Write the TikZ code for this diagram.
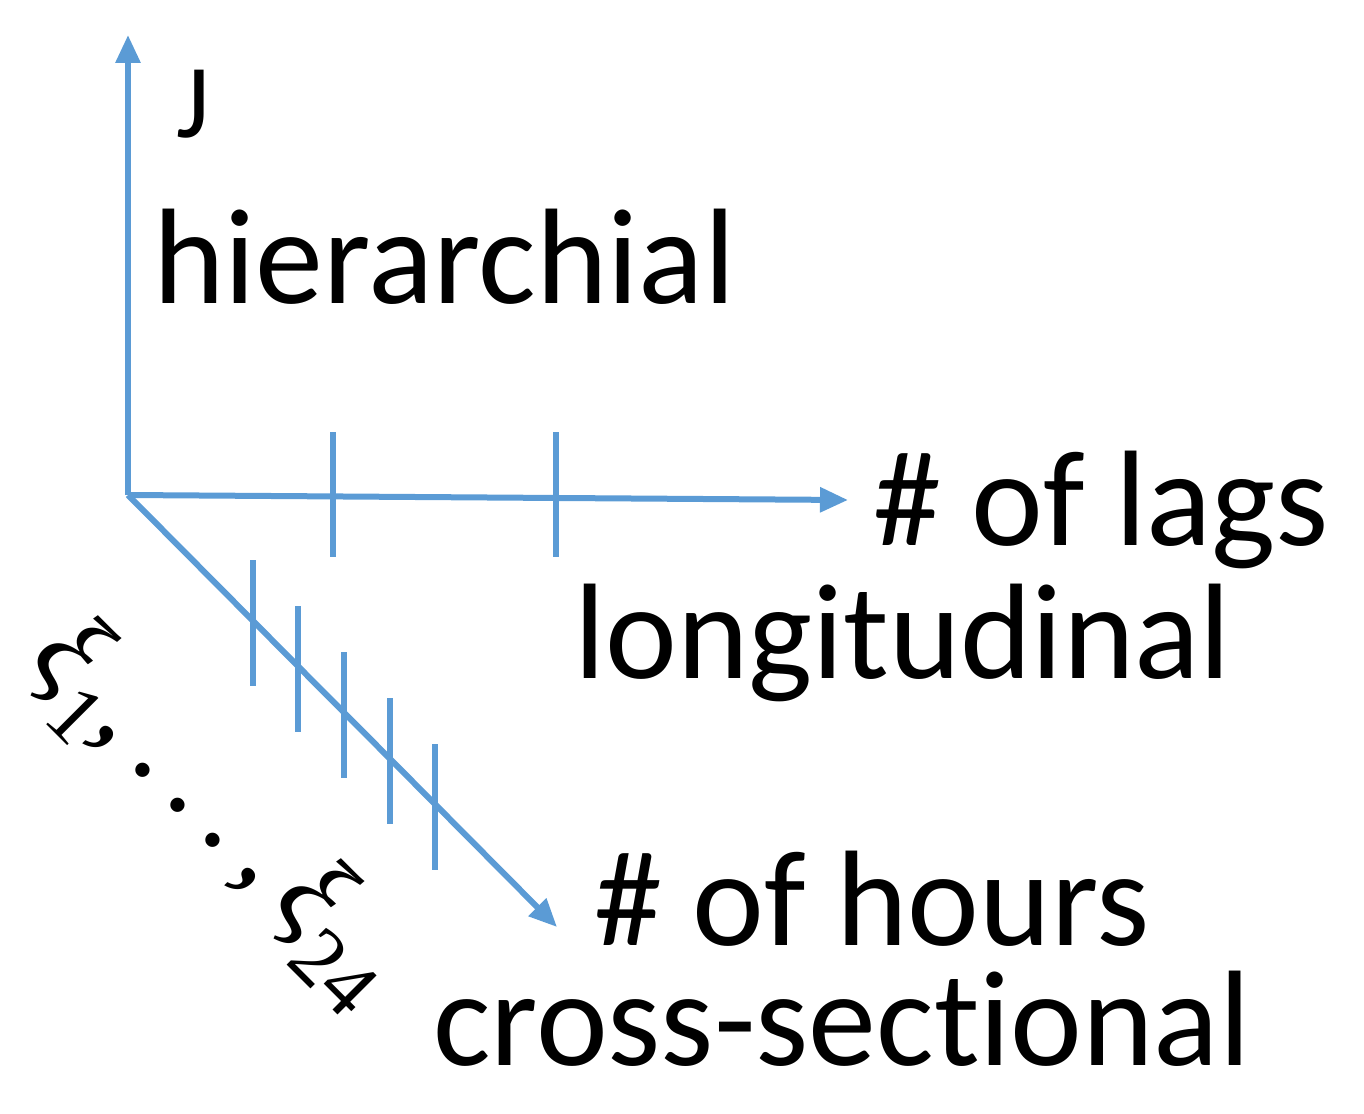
\documentclass[tikz,border=0pt]{standalone}
\usepackage{fontspec}
\setmainfont{Carlito}
\newfontfamily\xifont{Liberation Serif}
\usetikzlibrary{arrows.meta}
\definecolor{axblue}{RGB}{91,155,213}
\newcommand{\mysub}[1]{\raisebox{-0.25em}{\fontsize{84}{84}\selectfont #1}}
\begin{document}
\begin{tikzpicture}[x=1pt,y=-1pt,
  axis/.style={draw=axblue,line width=6pt,-{Triangle[length=28pt,width=24pt]}},
  tick/.style={draw=axblue,line width=6pt},
  lbl/.style={anchor=base west,inner sep=0pt,font=\fontsize{136}{136}\selectfont}]
\useasboundingbox (0,0) rectangle (1364,1113);
\coordinate (O) at (128,495);
\coordinate (Y) at (128,35);
\coordinate (X) at (848,500);
\coordinate (D) at (557,927);
\draw[axis] (O) -- (Y);
\draw[axis] (O) -- (X);
\draw[axis] (O) -- (D);
\foreach \x in {333,556} \draw[tick] (\x,432) -- (\x,557);
\foreach \x/\y in {253/560,298/606,344/652,390/698,435/744} \draw[tick] (\x,\y) -- (\x,\y+126);
\node[lbl,font=\fontsize{105}{105}\selectfont] (j) at (176,138) {J};
\node[lbl] (h) at (153,303) {hierarchial};
\node[lbl] (lags) at (873,545) {\# of lags};
\node[lbl] (lon) at (574,678) {longitudinal};
\node[lbl] (hrs) at (594,945) {\# of hours};
\node[lbl] (cs) at (433,1065) {cross-sect\kern0pt ional};
\node[rotate=-45,inner sep=0pt,font=\xifont\fontsize{120}{120}\selectfont] (xi) at (215,812)
  {\textit{ξ}\mysub{1},\,.\,.\,.\,,\,\textit{ξ}\mysub{24}};
\end{tikzpicture}
\end{document}
